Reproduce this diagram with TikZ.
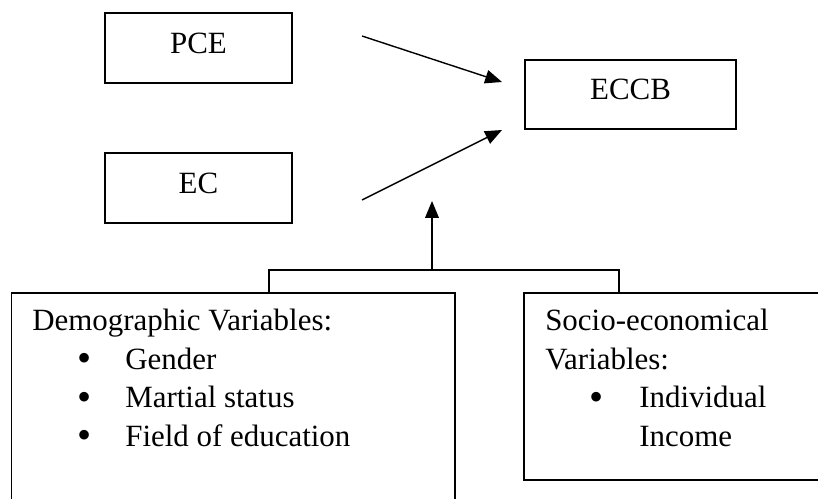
\documentclass[tikz,border=0pt]{standalone}
\usepackage{fontspec}
\setmainfont{Liberation Serif}
\usepackage{graphicx}
\usetikzlibrary{arrows.meta, positioning}
\newcommand{\punto}{\raisebox{-0.08em}{\scalebox{1.3}{\textbullet}}}
\newcommand{\bitem}[1]{\hspace*{1.12cm}\makebox[1.205cm][l]{\punto}#1}
\begin{document}
\begin{tikzpicture}[x=0.025cm, y=-0.025cm,
            caja/.style={rectangle, draw, line width=1pt, inner sep=0pt, font=\fontsize{22}{27}\selectfont, text depth=0.25cm},
            grupo/.style={rectangle, draw, line width=1pt, inner sep=0pt},
            texto/.style={align=left, inner sep=0pt, anchor=north west, font=\fontsize{22}{27.4}\selectfont},
            flecha/.style={-{Triangle[length=0.42cm, width=0.34cm]}, line width=1pt}
        ]
            \useasboundingbox (0,0) rectangle (818,499);
            \clip (0,0) rectangle (818,499);

            % Cajas de arriba
            \node[caja, minimum width=4.675cm, minimum height=1.75cm] (pce) at (198.5, 48) {PCE};
            \node[caja, minimum width=4.675cm, minimum height=1.75cm] (ec) at (198.5, 188) {EC};
            \node[caja, minimum width=5.275cm, minimum height=1.725cm] (eccb) at (630.5, 94.5) {ECCB};

            % Cajas de abajo
            \node[grupo, minimum width=11.09cm, minimum height=5.925cm] (demo) at (233.25, 411.5) {};
            \node[grupo, minimum width=8.15cm, minimum height=4.675cm] (socio) at (687, 386.5) {};

            % Textos de las cajas de abajo
            \node[texto] (demotxt) at (32, 309) {Demographic Variables:\\
                \bitem{Gender}\\
                \bitem{Martial status}\\
                \bitem{Field of education}};
            \node[texto] (sociotxt) at (545, 309) {Socio-economical\\
                Variables:\\
                \hspace*{1.095cm}\makebox[1.255cm][l]{\punto}Individual\\
                \hspace*{2.35cm}Income};

            % Puntos de las flechas
            \coordinate (pce_a) at (362, 36);
            \coordinate (pce_b) at (502, 82);
            \coordinate (ec_a) at (362, 200);
            \coordinate (ec_b) at (502, 130);
            \coordinate (demo_top) at (269, 293);
            \coordinate (socio_top) at (619, 293);
            \coordinate (union) at (432, 270);
            \coordinate (punta) at (432, 201);

            % Flechas hacia ECCB
            \draw[flecha] (pce_a) -- (pce_b);
            \draw[flecha] (ec_a) -- (ec_b);

            % Conector de las variables
            \draw[line width=1pt] (demo_top) |- (union) -| (socio_top);
            \draw[flecha] (union) -- (punta);

        \end{tikzpicture}
\end{document}
